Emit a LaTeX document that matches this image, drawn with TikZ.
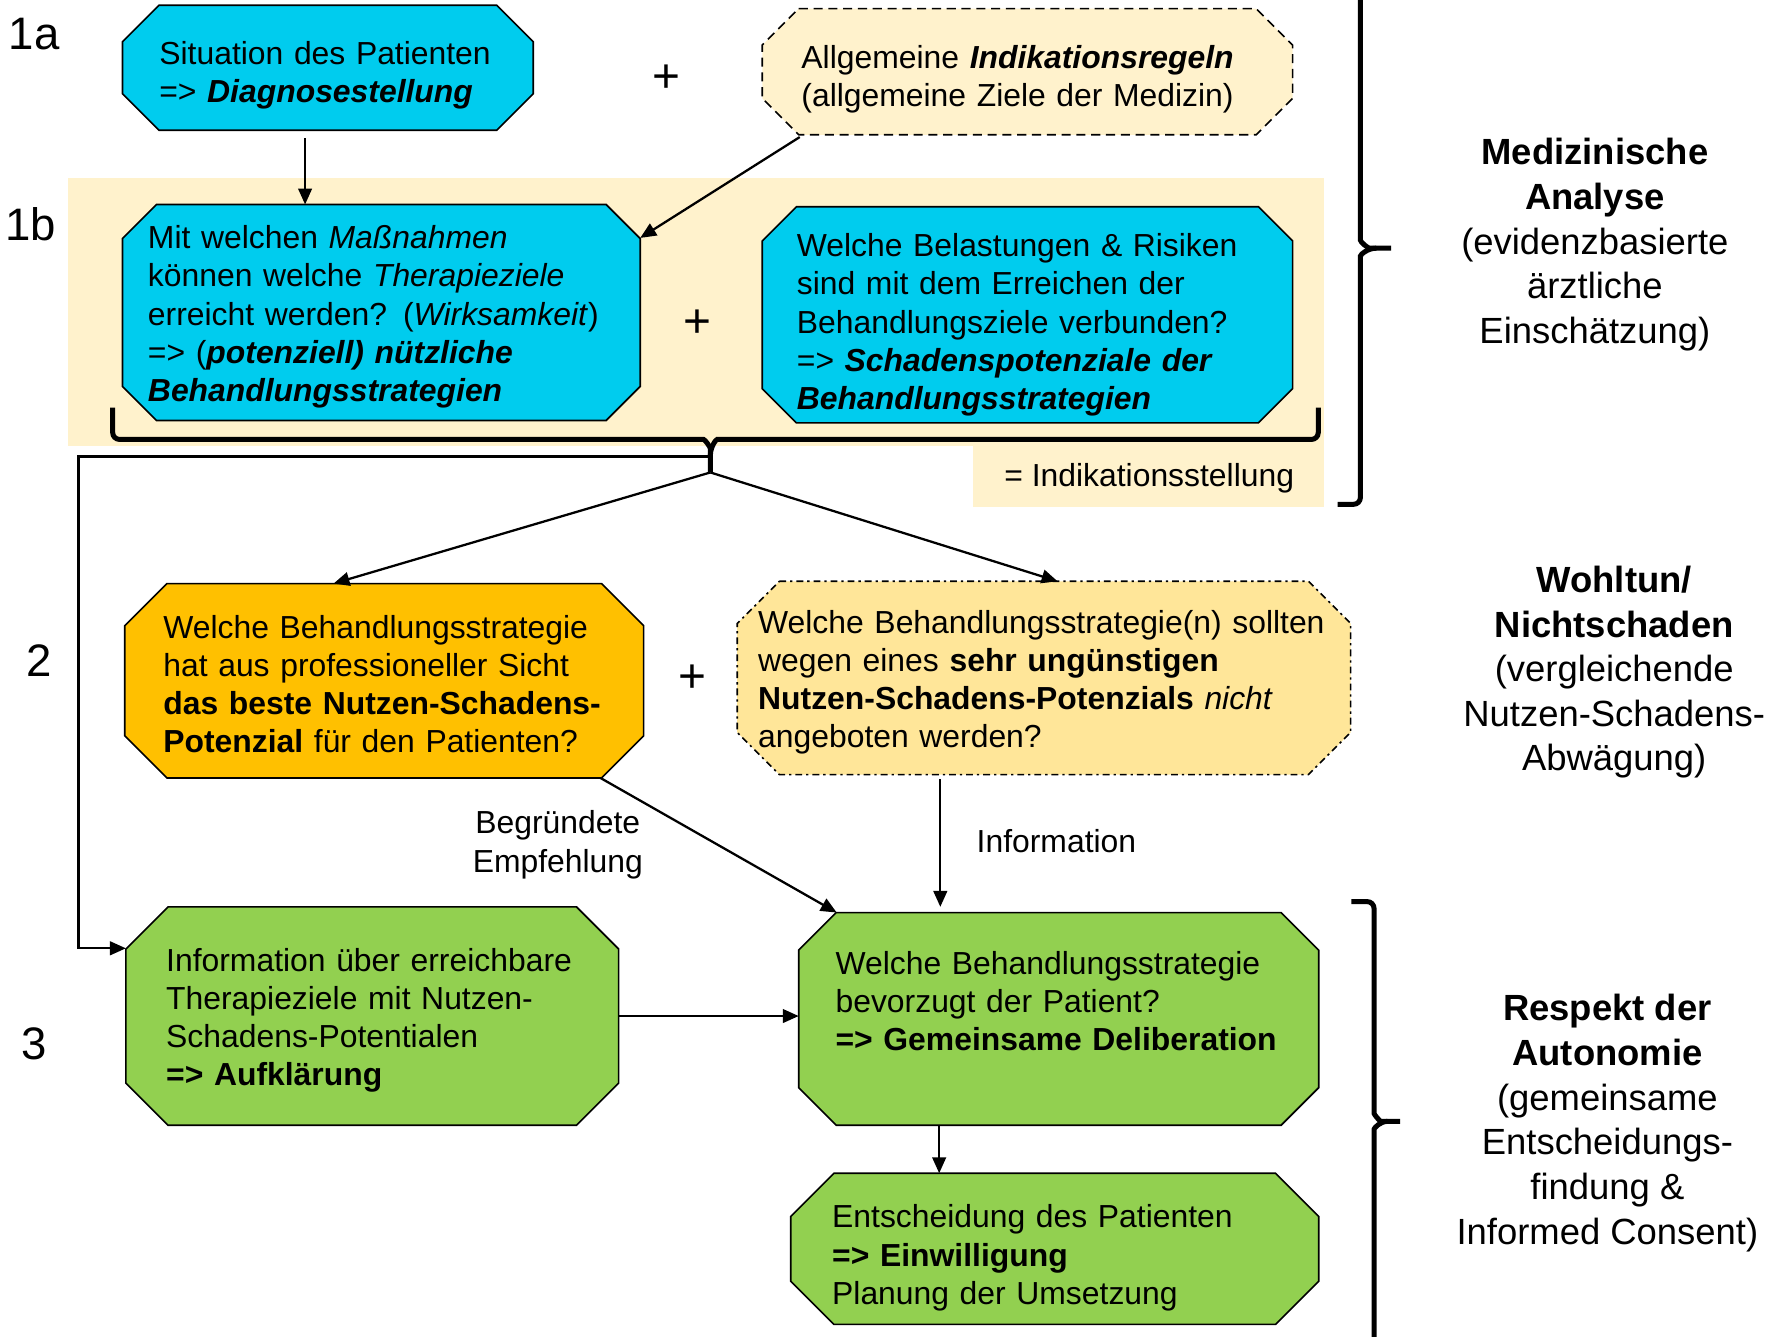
\documentclass[tikz,border=0pt]{standalone}
\usepackage{fontspec}
\setmainfont{Liberation Sans}
\usetikzlibrary{arrows.meta,backgrounds}

\definecolor{cyanbox}{HTML}{00CCEE}
\definecolor{paleyellow}{HTML}{FFF2CC}
\definecolor{orangebox}{HTML}{FFC000}
\definecolor{lightorange}{HTML}{FFE699}
\definecolor{greenbox}{HTML}{92D050}

% octagon round a named node: [style]{node}{chamfer}
\newcommand{\octagon}[3][]{%
  \draw[octline,#1] ([xshift=#3]#2.north west) -- ([xshift=-#3]#2.north east)
    -- ([yshift=-#3]#2.north east) -- ([yshift=#3]#2.south east)
    -- ([xshift=-#3]#2.south east) -- ([xshift=#3]#2.south west)
    -- ([yshift=#3]#2.south west) -- ([yshift=-#3]#2.north west) -- cycle;}

\tikzset{
  box/.style={rectangle, inner sep=0pt, align=left, font=\fontsize{14}{16.75}\selectfont},
  octline/.style={line width=0.7pt},
  conn/.style={-{Triangle[length=7pt,width=6pt]}, line width=1pt},
  bracket/.style={line width=2.2pt, rounded corners=3pt},
  num/.style={font=\fontsize{20}{24}\selectfont},
  plus/.style={font=\fontsize{21}{25}\selectfont},
  note/.style={align=center, font=\fontsize{14}{16.75}\selectfont},
  side/.style={align=center, font=\fontsize{16}{19.6}\selectfont}
}

\begin{document}
\begin{tikzpicture}[x=0.5pt,y=-0.5pt]
    \useasboundingbox (0,0) rectangle (1568,1174);

    \node[num] (n1a) at (30,30) {1a};
    \node[num] (n1b) at (27,197) {1b};
    \node[num] (n2) at (34,580) {2};
    \node[num] (n3) at (30,917) {3};

    \node[box, minimum width=180pt, minimum height=54.5pt, text width=148pt, text height=17pt] (situation) at (288,59.5) {Situation des Patienten\\=> \textbf{\textit{Diagnosestellung}}};
    \node[box, minimum width=232.5pt, minimum height=55pt, text width=198.5pt, text height=17pt] (regeln) at (902.5,63) {Allgemeine \textbf{\textit{Indikationsregeln}}\\(allgemeine Ziele der Medizin)};
    \node[box, minimum width=227pt, minimum height=94.5pt, text width=205pt, text height=14pt] (nutzen) at (335,274.5) {Mit welchen \textit{Maßnahmen}\\können welche \textit{Therapieziele}\\erreicht werden? (\textit{Wirksamkeit})\\=> (\textbf{\textit{potenziell) nützliche}}\\\textbf{\textit{Behandlungsstrategien}}};
    \node[box, minimum width=232.5pt, minimum height=94.5pt, text width=202.5pt, text height=19pt] (schaden) at (902.5,276.5) {Welche Belastungen \& Risiken\\sind mit dem Erreichen der\\Behandlungsziele verbunden?\\=> \textbf{\textit{Schadenspotenziale der}}\\\textbf{\textit{Behandlungsstrategien}}};
    \node[box, minimum width=227.5pt, minimum height=85pt, text width=194pt, text height=13pt] (beste) at (337.5,598) {Welche Behandlungsstrategie\\hat aus professioneller Sicht\\\textbf{das beste Nutzen-Schadens-}\\\textbf{Potenzial} für den Patienten?};
    \node[box, minimum width=269pt, minimum height=84.5pt, text width=251pt, text height=14pt] (abraten) at (917,595.5) {Welche Behandlungsstrategie(n) sollten\\wegen eines \textbf{sehr ungünstigen}\\\textbf{Nutzen-Schadens-Potenzials} \textit{nicht}\\angeboten werden?};
    \node[box, minimum width=216pt, minimum height=95.5pt, text width=181pt, text height=14pt] (aufklaerung) at (327,892.5) {Information über erreichbare\\Therapieziele mit Nutzen-\\Schadens-Potentialen\\\textbf{=> Aufklärung}};
    \node[box, minimum width=228pt, minimum height=93pt, text width=196pt, text height=11pt] (deliberation) at (930,895) {Welche Behandlungsstrategie\\bevorzugt der Patient?\\\textbf{=> Gemeinsame Deliberation}\\\mbox{}};
    \node[box, minimum width=231.5pt, minimum height=66pt, text width=195.5pt, text height=18pt] (einwilligung) at (926.5,1097) {Entscheidung des Patienten\\\textbf{=> Einwilligung}\\Planung der Umsetzung};

    \begin{scope}[on background layer]
        % yellow field behind step 1b
        \fill[paleyellow] (60,156) rectangle (1163,392);
        \fill[paleyellow] (855,392) rectangle (1163,445);
        \octagon[fill=cyanbox]{situation}{16pt}
        \octagon[fill=paleyellow, dash pattern=on 4pt off 2.5pt]{regeln}{16pt}
        \octagon[fill=cyanbox]{nutzen}{15pt}
        \octagon[fill=cyanbox]{schaden}{15pt}
        \octagon[fill=orangebox]{beste}{18.5pt}
        \octagon[fill=lightorange, dash pattern=on 3pt off 1.75pt on 1pt off 1.75pt]{abraten}{18.5pt}
        \octagon[fill=greenbox]{aufklaerung}{18.5pt}
        \octagon[fill=greenbox]{deliberation}{16.5pt}
        \octagon[fill=greenbox]{einwilligung}{19pt}
    \end{scope}

    \node[plus] (plus1) at (585,69.5) {+};
    \node[plus] (plus2) at (613,284.5) {+};
    \node[plus] (plus3) at (608,596.5) {+};

    \node[note] (indikation) at (1009.5,420) {= Indikationsstellung};
    \node[note] (empfehlung) at (490,742) {Begründete\\Empfehlung};
    \node[note] (information) at (928,739) {Information};

    \node[side] (analyse) at (1401,215) {\textbf{Medizinische}\\\textbf{Analyse}\\(evidenzbasierte\\ärztliche\\Einschätzung)};
    \node[side] (wohltun) at (1418,590.5) {\textbf{Wohltun/}\\\textbf{Nichtschaden}\\(vergleichende\\Nutzen-Schadens-\\Abwägung)};
    \node[side] (autonomie) at (1412,986.5) {\textbf{Respekt der}\\\textbf{Autonomie}\\(gemeinsame\\Entscheidungs-\\findung \&\\Informed Consent)};

    % braces
    \draw[bracket] (99,358) -- (99,386) -- (612,386) to[out=0,in=90] (624,400) -- (624,415);
    \draw[bracket] (624,400) to[out=90,in=180] (636,386) -- (1158,386) -- (1158,358);
    \draw[bracket] (1195,0) -- (1195,205) to[out=-90,in=180] (1209,218) -- (1222,218);
    \draw[bracket] (1209,218) to[out=180,in=90] (1195,231) -- (1195,443) -- (1175,443);
    \draw[bracket] (1187,792) -- (1207,792) -- (1207,972) to[out=-90,in=180] (1219,985) -- (1230,985);
    \draw[bracket] (1219,985) to[out=180,in=90] (1207,998) -- (1207,1180);

    \coordinate (tip) at (624,415);
    \coordinate (stem) at (624,401);
    \coordinate (bend) at (69,401);
    \coordinate (s1) at ([xshift=-10pt,yshift=-3.5pt]situation.south);
    \coordinate (f1) at ([xshift=-45.5pt,yshift=-2pt]abraten.south);
    \coordinate (d1) at ([xshift=-52.5pt]deliberation.south);

    \draw[conn] (s1) -- (s1 |- nutzen.north);
    \draw[conn] ([xshift=-100pt,yshift=-1pt]regeln.south) -- ([yshift=32.75pt]nutzen.east);
    \draw[conn] (tip) -- ([xshift=-22.25pt]beste.north);
    \draw[conn] (tip) -- ([xshift=6pt]abraten.north);
    \draw[conn] (stem) -- (bend) |- ([yshift=29.75pt]aufklaerung.west);
    \draw[conn] ([xshift=95pt]beste.south) -- ([xshift=-97.5pt]deliberation.north);
    \draw[conn, shorten >=2.5pt] (f1) -- (f1 |- deliberation.north);
    \draw[conn] (aufklaerung.east) -- (aufklaerung.east -| deliberation.west);
    \draw[conn] (d1) -- (d1 |- einwilligung.north);
\end{tikzpicture}
\end{document}
